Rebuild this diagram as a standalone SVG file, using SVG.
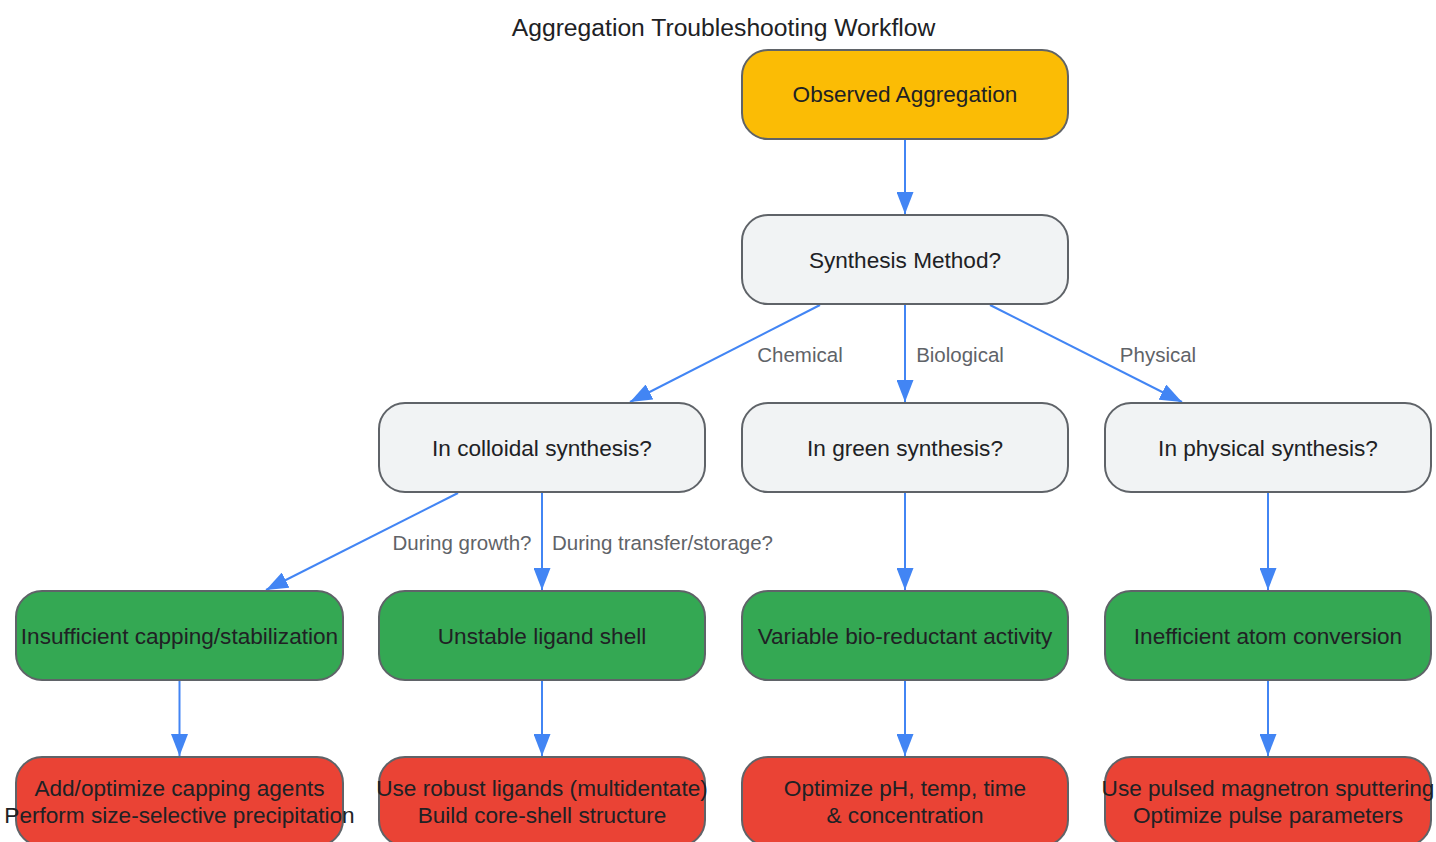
<svg xmlns="http://www.w3.org/2000/svg" width="1436" height="842" viewBox="0 0 1436 842">
<style>
.n rect{stroke:#5f6368;stroke-width:2}
.y{fill:#FBBC05}.g{fill:#F1F3F4}.gr{fill:#34A853}.r{fill:#EA4335}
.n text{font-family:"Liberation Sans",Arial,sans-serif;font-size:22.6px;fill:#202124;text-anchor:middle;dominant-baseline:central}
.e line{stroke:#4285F4;stroke-width:2;fill:none}
.l{font-family:"Liberation Sans",Arial,sans-serif;font-size:20.5px;fill:#5f6368;text-anchor:middle;dominant-baseline:central}
.t{font-family:"Liberation Sans",Arial,sans-serif;font-size:24.7px;fill:#202124;text-anchor:middle;dominant-baseline:central}
</style>
<defs>
<marker id="a" markerUnits="userSpaceOnUse" markerWidth="22" markerHeight="17" refX="22" refY="8.5" orient="auto">
<path d="M0,0 L22,8.5 L0,17 z" fill="#4285F4"/>
</marker>
</defs>
<rect width="1436" height="842" fill="#ffffff"/>
<text class="t" x="723.5" y="27.5">Aggregation Troubleshooting Workflow</text>
<g id="edges" class="e">
<line x1="905" y1="139" x2="905" y2="214" marker-end="url(#a)"/>
<line x1="820" y1="305" x2="630" y2="402" marker-end="url(#a)"/>
<line x1="905" y1="305" x2="905" y2="402" marker-end="url(#a)"/>
<line x1="990" y1="305" x2="1182" y2="402" marker-end="url(#a)"/>
<line x1="458" y1="493" x2="266" y2="590" marker-end="url(#a)"/>
<line x1="542" y1="493" x2="542" y2="590" marker-end="url(#a)"/>
<line x1="905" y1="493" x2="905" y2="590" marker-end="url(#a)"/>
<line x1="1268" y1="493" x2="1268" y2="590" marker-end="url(#a)"/>
<line x1="179.5" y1="681" x2="179.5" y2="756" marker-end="url(#a)"/>
<line x1="542" y1="681" x2="542" y2="756" marker-end="url(#a)"/>
<line x1="905" y1="681" x2="905" y2="756" marker-end="url(#a)"/>
<line x1="1268" y1="681" x2="1268" y2="756" marker-end="url(#a)"/>
</g>
<g id="edge-labels">
<text class="l" x="800" y="354">Chemical</text>
<text class="l" x="960" y="354">Biological</text>
<text class="l" x="1158" y="354">Physical</text>
<text class="l" x="462" y="542">During growth?</text>
<text class="l" x="662.5" y="542">During transfer/storage?</text>
</g>
<g id="observed" class="n"><rect class="y" x="742" y="50" width="326" height="89" rx="26"/><text x="905" y="94.5">Observed Aggregation</text></g>
<g id="method" class="n"><rect class="g" x="742" y="215" width="326" height="89" rx="26"/><text x="905" y="260">Synthesis Method?</text></g>
<g id="colloidal" class="n"><rect class="g" x="379" y="403" width="326" height="89" rx="26"/><text x="542" y="448">In colloidal synthesis?</text></g>
<g id="green" class="n"><rect class="g" x="742" y="403" width="326" height="89" rx="26"/><text x="905" y="448">In green synthesis?</text></g>
<g id="physical" class="n"><rect class="g" x="1105" y="403" width="326" height="89" rx="26"/><text x="1268" y="448">In physical synthesis?</text></g>
<g id="capping" class="n"><rect class="gr" x="16" y="591" width="327" height="89" rx="26"/><text x="179.5" y="636">Insufficient capping/stabilization</text></g>
<g id="ligand" class="n"><rect class="gr" x="379" y="591" width="326" height="89" rx="26"/><text x="542" y="636">Unstable ligand shell</text></g>
<g id="bio" class="n"><rect class="gr" x="742" y="591" width="326" height="89" rx="26"/><text x="905" y="636">Variable bio-reductant activity</text></g>
<g id="atom" class="n"><rect class="gr" x="1105" y="591" width="326" height="89" rx="26"/><text x="1268" y="636">Inefficient atom conversion</text></g>
<g id="fix-capping" class="n"><rect class="r" x="16" y="757" width="327" height="89" rx="26"/><text x="179.5" y="788">Add/optimize capping agents</text><text x="179.5" y="815">Perform size-selective precipitation</text></g>
<g id="fix-ligand" class="n"><rect class="r" x="379" y="757" width="326" height="89" rx="26"/><text x="542" y="788">Use robust ligands (multidentate)</text><text x="542" y="815">Build core-shell structure</text></g>
<g id="fix-bio" class="n"><rect class="r" x="742" y="757" width="326" height="89" rx="26"/><text x="905" y="788">Optimize pH, temp, time</text><text x="905" y="815">&amp; concentration</text></g>
<g id="fix-atom" class="n"><rect class="r" x="1105" y="757" width="326" height="89" rx="26"/><text x="1268" y="788">Use pulsed magnetron sputtering</text><text x="1268" y="815">Optimize pulse parameters</text></g>
</svg>
